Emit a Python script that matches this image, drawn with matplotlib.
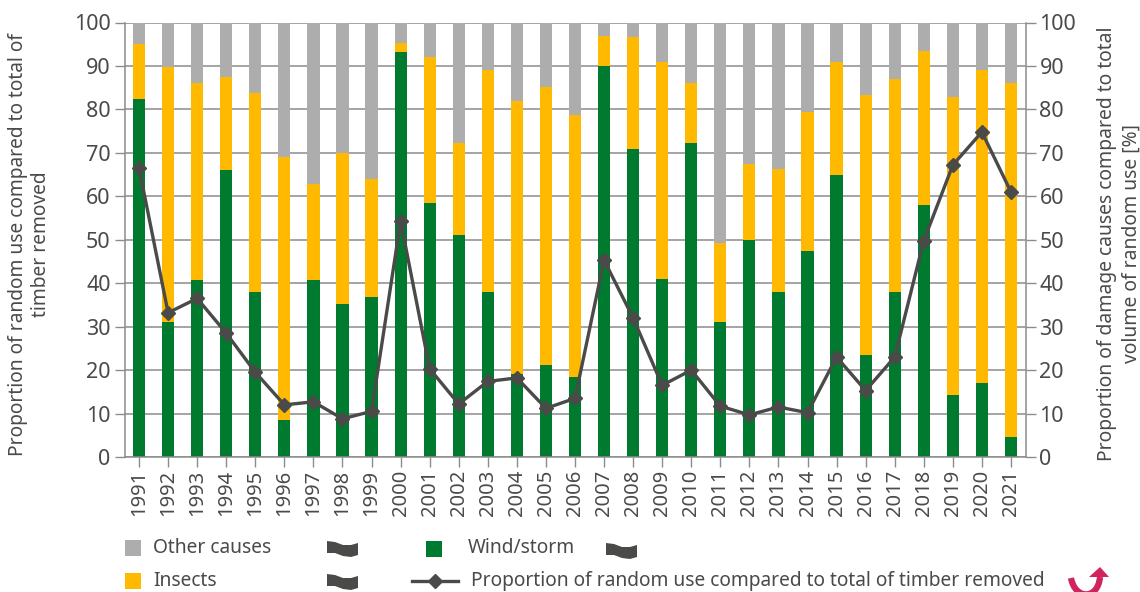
import matplotlib
matplotlib.use('Agg')
import matplotlib.pyplot as plt
from matplotlib.lines import Line2D
from matplotlib.path import Path
from matplotlib.patches import Rectangle, Polygon, PathPatch

years = list(range(1991, 2022))
wind = [82.3, 31, 40.7, 66, 38, 8.6, 40.8, 35.2, 36.8, 93.3, 58.4, 51, 38, 19, 21.2, 18.4,
        90, 71, 41, 72.3, 31, 50, 38, 47.5, 64.8, 23.5, 38, 58, 14.3, 17, 4.7]
insects = [12.7, 58.7, 45.3, 21.4, 45.8, 60.4, 22, 34.8, 27.2, 1.9, 33.6, 21.3, 51, 63, 64, 60.4,
           7, 25.6, 50, 13.7, 18.3, 17.5, 28.3, 32, 26, 59.8, 49, 35.5, 68.5, 72, 81.3]
other = [5, 10.3, 14, 12.6, 16.2, 31, 37.2, 30, 36, 4.8, 8, 27.7, 11, 18, 14.8, 21.2,
         3, 3.4, 9, 14, 50.7, 32.5, 33.7, 20.5, 9.2, 16.7, 13, 6.5, 17.2, 11, 14]
random_use = [66.5, 33.2, 36.5, 28.5, 19.5, 12, 12.7, 8.8, 10.5, 54.3, 20.3, 12.2, 17.4, 18.2, 11.2, 13.5,
              45.3, 32, 16.5, 20, 11.7, 9.7, 11.5, 10.2, 23, 15.3, 23, 49.8, 67.2, 74.8, 61]

GREEN = '#007a2f'
YELLOW = '#ffb900'
GREY = '#adadad'
DARK = '#4a4a49'
W, H = 1140, 592

plt.rcParams['font.family'] = ['Noto Sans', 'DejaVu Sans']

fig = plt.figure(figsize=(W / 100, H / 100), dpi=100)
ax = fig.add_axes([124.5 / W, 1 - 457 / H, 901 / W, 434.5 / H])


def px(x, y):
    return x / W, 1 - y / H


bottom2 = [a + b for a, b in zip(wind, insects)]
ax.yaxis.grid(True, color='#8c8c8c', lw=1.1)
ax.set_axisbelow(True)
ax.bar(years, wind, width=0.42, color=GREEN, zorder=2)
ax.bar(years, insects, width=0.42, bottom=wind, color=YELLOW, zorder=2)
ax.bar(years, other, width=0.42, bottom=bottom2, color=GREY, zorder=2)
ax.plot(years, random_use, color=DARK, lw=2.4, marker='D', ms=7, zorder=3)

ax.set_xlim(1990.5, 2021.5)
ax.set_ylim(0, 100)
ax.set_xticks(years)
ax.set_xticklabels(years, rotation=90)
ax.set_yticks(range(0, 101, 10))
ax.tick_params(axis='x', labelsize=14.5, colors=DARK, length=7, width=1, color='#8c8c8c', pad=2)
ax.tick_params(axis='y', labelsize=15.5, colors=DARK, length=7, width=1, color='#8c8c8c', pad=3)
for s in ['top', 'right']:
    ax.spines[s].set_visible(False)
for s in ['left', 'bottom']:
    ax.spines[s].set_color('#8c8c8c')
    ax.spines[s].set_linewidth(1.1)

ax2 = ax.twinx()
ax2.set_ylim(0, 100)
ax2.set_yticks(range(0, 101, 10))
ax2.tick_params(axis='y', labelsize=15.5, colors=DARK, length=7, width=1, color='#8c8c8c', pad=3)
for s in ['top', 'left', 'bottom']:
    ax2.spines[s].set_visible(False)
ax2.spines['right'].set_color('#8c8c8c')
ax2.spines['right'].set_linewidth(1.1)

fig.text(*px(30, 244), 'Proportion of random use compared to total of\ntimber removed',
         rotation=90, ha='center', va='center', fontsize=13.8, color=DARK, linespacing=1.2)
fig.text(*px(1119, 244), 'Proportion of damage causes compared to total\nvolume of random use [%]',
         rotation=90, ha='center', va='center', fontsize=13.9, color=DARK, linespacing=1.3)

# legend drawn by hand, it sits in two loose rows under the chart
for x, y, c in [(125, 540, GREY), (125, 573, YELLOW), (426, 541, GREEN)]:
    fig.add_artist(Rectangle(px(x, y + 16), 16 / W, 16 / H, transform=fig.transFigure, color=c, lw=0))
for x, y, s in [(153, 548, 'Other causes'), (153, 581, 'Insects'), (468, 548, 'Wind/storm'),
                (471, 581, 'Proportion of random use compared to total of timber removed')]:
    fig.text(*px(x, y), s, ha='left', va='center', fontsize=13.8, color=DARK)
fig.add_artist(Line2D([412 / W, 458 / W], [1 - 581 / H] * 2, transform=fig.transFigure,
                      color=DARK, lw=2.4))
fig.add_artist(Line2D([435 / W], [1 - 581 / H], transform=fig.transFigure,
                      color=DARK, marker='D', ms=7))

# little flag icons next to the legend entries
flag = [(0, 0), (8, 1), (16, 4), (24, 4), (31, 2), (31, 14), (24, 16), (16, 15), (8, 12), (0, 12)]
for x0, y0 in [(327, 541), (327, 574), (606, 543)]:
    pts = [px(x0 + a, y0 + b) for a, b in flag]
    fig.add_artist(Polygon(pts, closed=True, transform=fig.transFigure, color=DARK, lw=0))

# red arrow at the corner, cut off by the bottom edge
curve = Path([px(1071, 578), px(1075, 600), px(1098, 600), px(1100, 577)],
             [Path.MOVETO, Path.CURVE4, Path.CURVE4, Path.CURVE4])
fig.add_artist(PathPatch(curve, transform=fig.transFigure, fill=False, edgecolor='#d0245e', lw=4.5))
fig.add_artist(Polygon([px(1089, 577), px(1100, 567), px(1109, 577)], closed=True,
                       transform=fig.transFigure, color='#d0245e', lw=0))

fig.savefig('out.png', dpi=100)
